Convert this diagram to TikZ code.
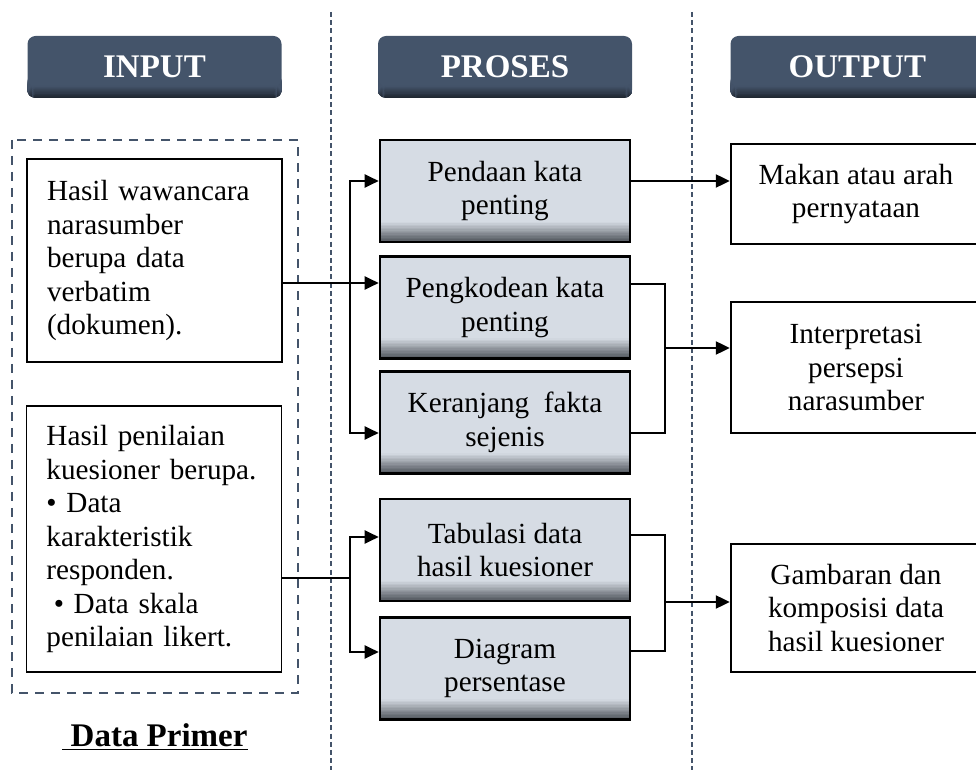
\documentclass[tikz,border=0pt]{standalone}
\usepackage{fontspec}
\setmainfont{Liberation Serif}
\usetikzlibrary{arrows.meta}
\definecolor{kepala}{HTML}{44546A}
\definecolor{kepalagelap}{HTML}{1F2630}
\definecolor{proses}{HTML}{D6DCE4}
\definecolor{prosesgelap}{HTML}{4D5259}
\tikzset{every picture/.style={line width=0.75pt}}
\tikzset{
  gradasi/.style n args={3}{path picture={
    \foreach \i in {1,...,14}{
      \pgfmathsetmacro\pct{100-(\i-0.5)*100/14}
      \fill[#2!\pct!#1] ([yshift=(\i-1)*#3/14]path picture bounding box.south west) rectangle ([yshift=\i*#3/14+0.2pt]path picture bounding box.south east);
    }}},
  headbox/.style={rectangle, rounded corners=4pt, fill=kepala, minimum width=127pt, minimum height=31pt,
    text=white, font=\fontsize{16.5}{19}\selectfont\bfseries, gradasi={kepala}{kepalagelap}{6pt}},
  prosesbox/.style={rectangle, draw, line width=1.3pt, fill=proses, minimum width=125pt, minimum height=51pt,
    align=center, font=\fontsize{14.6}{16.75}\selectfont, gradasi={proses}{prosesgelap}{10pt}},
  inbox/.style={rectangle, draw, line width=0.85pt, text width=107.5pt, inner xsep=10pt, align=left,
    font=\fontsize{14.6}{16.75}\selectfont},
  outbox/.style={rectangle, draw, line width=1.2pt, minimum width=125pt, align=center,
    font=\fontsize{14.6}{16.75}\selectfont},
  garis/.style={line width=1.1pt},
  panah/.style={line width=1.1pt, -{Triangle[length=7pt,width=6.5pt]}},
  panahdua/.style={line width=1.1pt, {Triangle[length=7pt,width=6.5pt]}-{Triangle[length=7pt,width=6.5pt]}},
  pemisah/.style={draw=kepala, line width=0.6pt, dash pattern=on 2.5pt off 1.6pt},
  kotakputus/.style={draw=kepala, line width=1.15pt, dash pattern=on 4.5pt off 3.5pt}
}

\begin{document}
\begin{tikzpicture}[x=0.5pt,y=0.5pt,yscale=-1,xscale=1]
\useasboundingbox (0,0) rectangle (976,770);
% garis pemisah kolom
\draw [pemisah] (331,12) -- (331,770) ;
\draw [pemisah] (692,12) -- (692,770) ;
% judul kolom
\draw (154.5,67) node [headbox] (hin) {INPUT};
\draw (505,67) node [headbox] (hpr) {PROSES};
\draw (857.5,67) node [headbox] (hout) {OUTPUT};
% input
\draw [kotakputus] (12,140) rectangle (298,693) ;
\draw (154.5,260.5) node [inbox, minimum height=101.5pt] (in1) {Hasil wawancara\\narasumber\\berupa data\\verbatim\\(dokumen).};
\draw (154,539) node [inbox, minimum height=133pt] (in2) {Hasil penilaian\\kuesioner berupa.\\\textbullet{} Data\\karakteristik\\responden.\\\hspace{0.25em}\textbullet{} Data skala\\penilaian likert.};
\draw (155,737) node [font=\fontsize{16.5}{19}\selectfont\bfseries] (judul) {\underline{\ Data Primer}};
% proses
\draw (505,191) node [prosesbox] (p1) {Pendaan kata\\penting};
\draw (505,307.5) node [prosesbox] (p2) {Pengkodean kata\\penting};
\draw (505,422.5) node [prosesbox] (p3) {Keranjang~ fakta\\sejenis};
\draw (505,550) node [prosesbox] (p4) {Tabulasi data\\hasil kuesioner};
\draw (505,668.5) node [prosesbox] (p5) {Diagram\\persentase};
% output
\draw (856,194) node [outbox, minimum height=50pt] (o1) {Makan atau arah\\pernyataan};
\draw (856,367.5) node [outbox, minimum height=65.5pt] (o2) {Interpretasi\\persepsi\\narasumber};
\draw (856,608) node [outbox, minimum height=64pt] (o3) {Gambaran dan\\komposisi data\\hasil kuesioner};
% penghubung kelompok 1
\coordinate (kiri1) at (350,283);
\coordinate (cab1a) at (350,181);
\coordinate (cab1b) at (350,433);
\coordinate (kanan1a) at (665,284);
\coordinate (kanan1b) at (665,433);
\coordinate (kanan1m) at (665,348);
\draw [panah] (in1.east |- kiri1) -- (p2.west |- kiri1) ;
\draw [panahdua] (p1.west |- cab1a) -- (cab1a) -- (cab1b) -- (p3.west |- cab1b) ;
\draw [panah] (p1.east |- cab1a) -- (o1.west |- cab1a) ;
\draw [garis] (p2.east |- kanan1a) -- (kanan1a) -- (kanan1b) -- (p3.east |- kanan1b) ;
\draw [panah] (kanan1m) -- (o2.west |- kanan1m) ;
% penghubung kelompok 2
\coordinate (kiri2) at (350,578);
\coordinate (cab2a) at (350,537);
\coordinate (cab2b) at (350,652);
\coordinate (kanan2a) at (665,535);
\coordinate (kanan2b) at (665,651);
\coordinate (kanan2m) at (665,602);
\draw [garis] (in2.east |- kiri2) -- (kiri2) ;
\draw [panahdua] (p4.west |- cab2a) -- (cab2a) -- (cab2b) -- (p5.west |- cab2b) ;
\draw [garis] (p4.east |- kanan2a) -- (kanan2a) -- (kanan2b) -- (p5.east |- kanan2b) ;
\draw [panah] (kanan2m) -- (o3.west |- kanan2m) ;
\end{tikzpicture}
\end{document}
